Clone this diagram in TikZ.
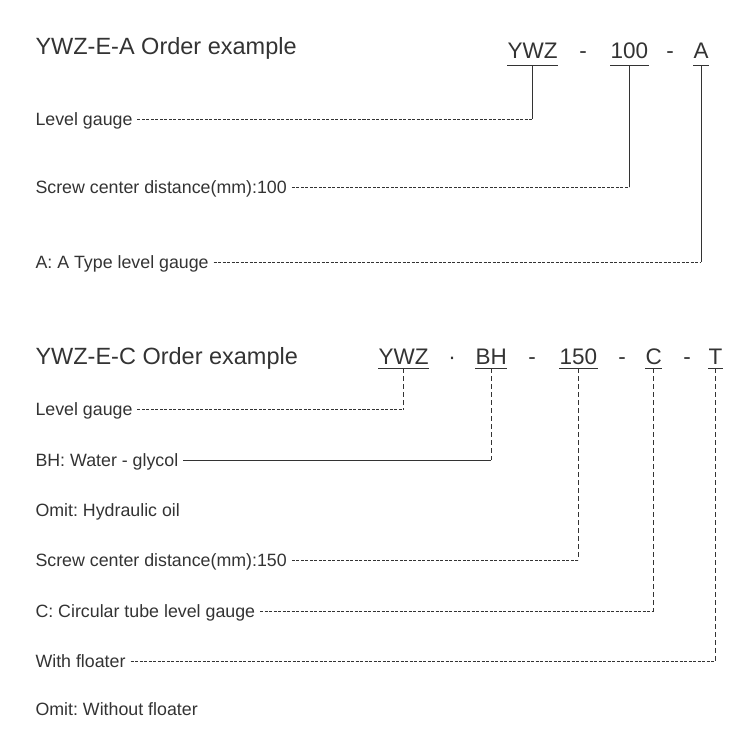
\documentclass[tikz,border=0pt]{standalone}
\usepackage{fontspec}
\setmainfont{Liberation Sans}
\definecolor{ink}{HTML}{333333}
\frenchspacing

\tikzset{
	heading/.style={anchor=base west, inner sep=0, font=\fontsize{23.5}{28}\selectfont},
	codepart/.style={anchor=base west, inner xsep=0, text depth=0pt, font=\fontsize{22.5}{27}\selectfont},
	joiner/.style={anchor=base, inner sep=0, font=\fontsize{22.5}{27}\selectfont},
	note/.style={anchor=west, inner xsep=4.5pt, inner ysep=0, text height=13pt, text depth=0pt, font=\fontsize{17.8}{21}\selectfont},
	fine/.style={dash pattern=on 3pt off 1.5pt, line width=0.8pt},
	coarse/.style={dash pattern=on 5pt off 3pt, line width=1pt},
}

\begin{document}
\begin{tikzpicture}[x=1pt, y=-1pt, color=ink, line width=1pt]
	\useasboundingbox (0,0) rectangle (750,750);

	% YWZ-E-A
	\node [heading] (headA) at (35,54) {YWZ-E-A Order example};
	\node [codepart, inner ysep=7pt] (ywzA) at (507,58) {YWZ};
	\node [joiner] (jA1) at (583,58) {-};
	\node [codepart, inner ysep=7pt] (numA) at (610,58) {100};
	\node [joiner] (jA2) at (670,58) {-};
	\node [codepart, inner ysep=7pt] (typA) at (693,58) {A};

	\node [note] (gaugeA) at (30.5,119) {Level gauge};
	\node [note] (distA) at (30.5,187) {Screw center distance(mm):100};
	\node [note] (typeA) at (30.5,262) {A: A Type level gauge};

	\foreach \n in {ywzA, numA, typA}
		\draw (\n.south west) -- (\n.south east);

	\coordinate (kA1) at (gaugeA.east -| ywzA.south);
	\coordinate (kA2) at (distA.east -| numA.south);
	\coordinate (kA3) at (typeA.east -| typA.south);
	\draw [fine] (gaugeA.east) -- (kA1);
	\draw [fine] (distA.east) -- (kA2);
	\draw [fine] (typeA.east) -- (kA3);
	\draw (ywzA.south) -- (kA1);
	\draw (numA.south) -- (kA2);
	\draw (typA.south) -- (kA3);

	% YWZ-E-C
	\node [heading] (headC) at (35,364) {YWZ-E-C Order example};
	\node [codepart, inner ysep=3.5pt] (ywzC) at (378,364) {YWZ};
	\node [joiner] (jC1) at (452,364) {·};
	\node [codepart, inner ysep=3.5pt] (medC) at (475,364) {BH};
	\node [joiner] (jC2) at (532,364) {-};
	\node [codepart, inner ysep=3.5pt] (numC) at (559,364) {150};
	\node [joiner] (jC3) at (622,364) {-};
	\node [codepart, inner ysep=3.5pt] (typC) at (645,364) {C};
	\node [joiner] (jC4) at (687,364) {-};
	\node [codepart, inner ysep=3.5pt] (fltC) at (708,364) {T};

	\node [note] (gaugeC) at (30.5,409) {Level gauge};
	\node [note] (medium) at (30.5,460) {BH: Water - glycol};
	\node [note] (oil) at (30.5,510) {Omit: Hydraulic oil};
	\node [note] (distC) at (30.5,560) {Screw center distance(mm):150};
	\node [note] (typeC) at (30.5,611) {C: Circular tube level gauge};
	\node [note] (flt) at (30.5,661) {With floater};
	\node [note] (noflt) at (30.5,709) {Omit: Without floater};

	\foreach \n in {ywzC, medC, numC, typC, fltC}
		\draw (\n.south west) -- (\n.south east);

	\coordinate (kC1) at (gaugeC.east -| ywzC.south);
	\coordinate (kC2) at (medium.east -| medC.south);
	\coordinate (kC3) at (distC.east -| numC.south);
	\coordinate (kC4) at (typeC.east -| typC.south);
	\coordinate (kC5) at (flt.east -| fltC.south);
	\draw [fine] (gaugeC.east) -- (kC1);
	\draw (medium.east) -- (kC2);
	\draw [fine] (distC.east) -- (kC3);
	\draw [fine] (typeC.east) -- (kC4);
	\draw [fine] (flt.east) -- (kC5);
	\draw [coarse] (ywzC.south) -- (kC1);
	\draw [coarse] (medC.south) -- (kC2);
	\draw [coarse] (numC.south) -- (kC3);
	\draw [coarse] (typC.south) -- (kC4);
	\draw [coarse] (fltC.south) -- (kC5);

\end{tikzpicture}
\end{document}
